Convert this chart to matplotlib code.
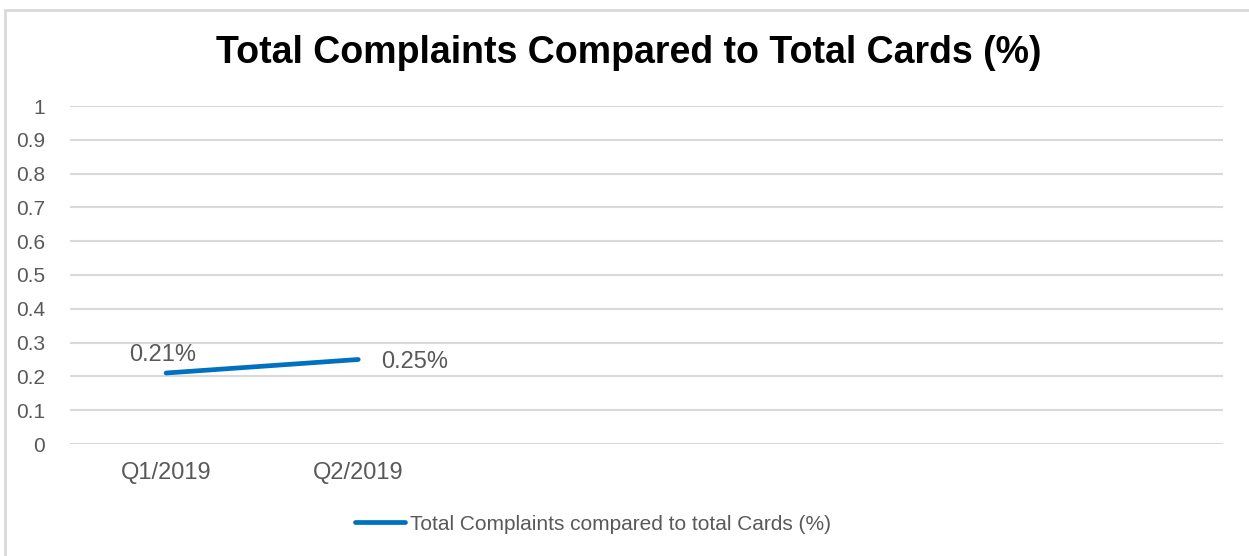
import matplotlib
matplotlib.use('Agg')
import matplotlib.pyplot as plt
from matplotlib.lines import Line2D
from matplotlib.patches import Rectangle

# quarters on the category axis (only the first two have data so far)
quarters = ['Q1/2019', 'Q2/2019', '', '', '', '']
complaint_pct = [0.21, 0.25]
series_name = 'Total Complaints compared to total Cards (%)'
y_ticks = [0, 0.1, 0.2, 0.3, 0.4, 0.5, 0.6, 0.7, 0.8, 0.9, 1]

blue = '#0070C0'
text_gray = '#595959'
grid_gray = '#D9D9D9'

plt.rcParams['font.family'] = ['Liberation Sans', 'DejaVu Sans']

fig = plt.figure(figsize=(12.49, 5.56), dpi=100)
ax = fig.add_axes([70 / 1249, 1 - 444 / 556, 1153 / 1249, 338 / 556])

# outer chart border
fig.patches.append(Rectangle((5 / 1249, -0.05), 1.1, 1 - 10 / 556 + 0.05,
                             transform=fig.transFigure, fill=False,
                             edgecolor=grid_gray, linewidth=2))

x = list(range(len(complaint_pct)))
ax.plot(x, complaint_pct, color=blue, linewidth=3.4, solid_capstyle='round')

ax.set_xlim(-0.5, len(quarters) - 0.5)
ax.set_ylim(0, 1)
ax.set_xticks(range(len(quarters)))
ax.set_xticklabels(quarters)
ax.set_yticks(y_ticks)
ax.set_yticklabels(['%g' % t for t in y_ticks])
ax.tick_params(axis='both', length=0, labelcolor=text_gray)
ax.tick_params(axis='x', pad=13, labelsize=17)
ax.tick_params(axis='y', pad=18, labelsize=15)
for s in ax.spines.values():
    s.set_visible(False)
ax.yaxis.grid(True, color=grid_gray, linewidth=1.5)
ax.set_axisbelow(True)

# data labels
ax.annotate('%.2f%%' % complaint_pct[0], (x[0], complaint_pct[0]),
            xytext=(-3, 7), textcoords='offset pixels',
            ha='center', va='bottom', fontsize=17, color=text_gray)
ax.annotate('%.2f%%' % complaint_pct[1], (x[1], complaint_pct[1]),
            xytext=(23, -2), textcoords='offset pixels',
            ha='left', va='center', fontsize=17, color=text_gray)

fig.text(629 / 1249, 1 - 53 / 556, 'Total Complaints Compared to Total Cards (%)',
         ha='center', va='center', fontsize=27, fontweight='bold', color='black')

handle = Line2D([], [], color=blue, linewidth=3.4, solid_capstyle='round')
fig.legend([handle], [series_name], loc='center', bbox_to_anchor=(593 / 1249, 1 - 524 / 556),
           frameon=False, fontsize=15, labelcolor=text_gray,
           handlelength=2.4, handletextpad=0.2)

fig.savefig('out.png', dpi=100)
